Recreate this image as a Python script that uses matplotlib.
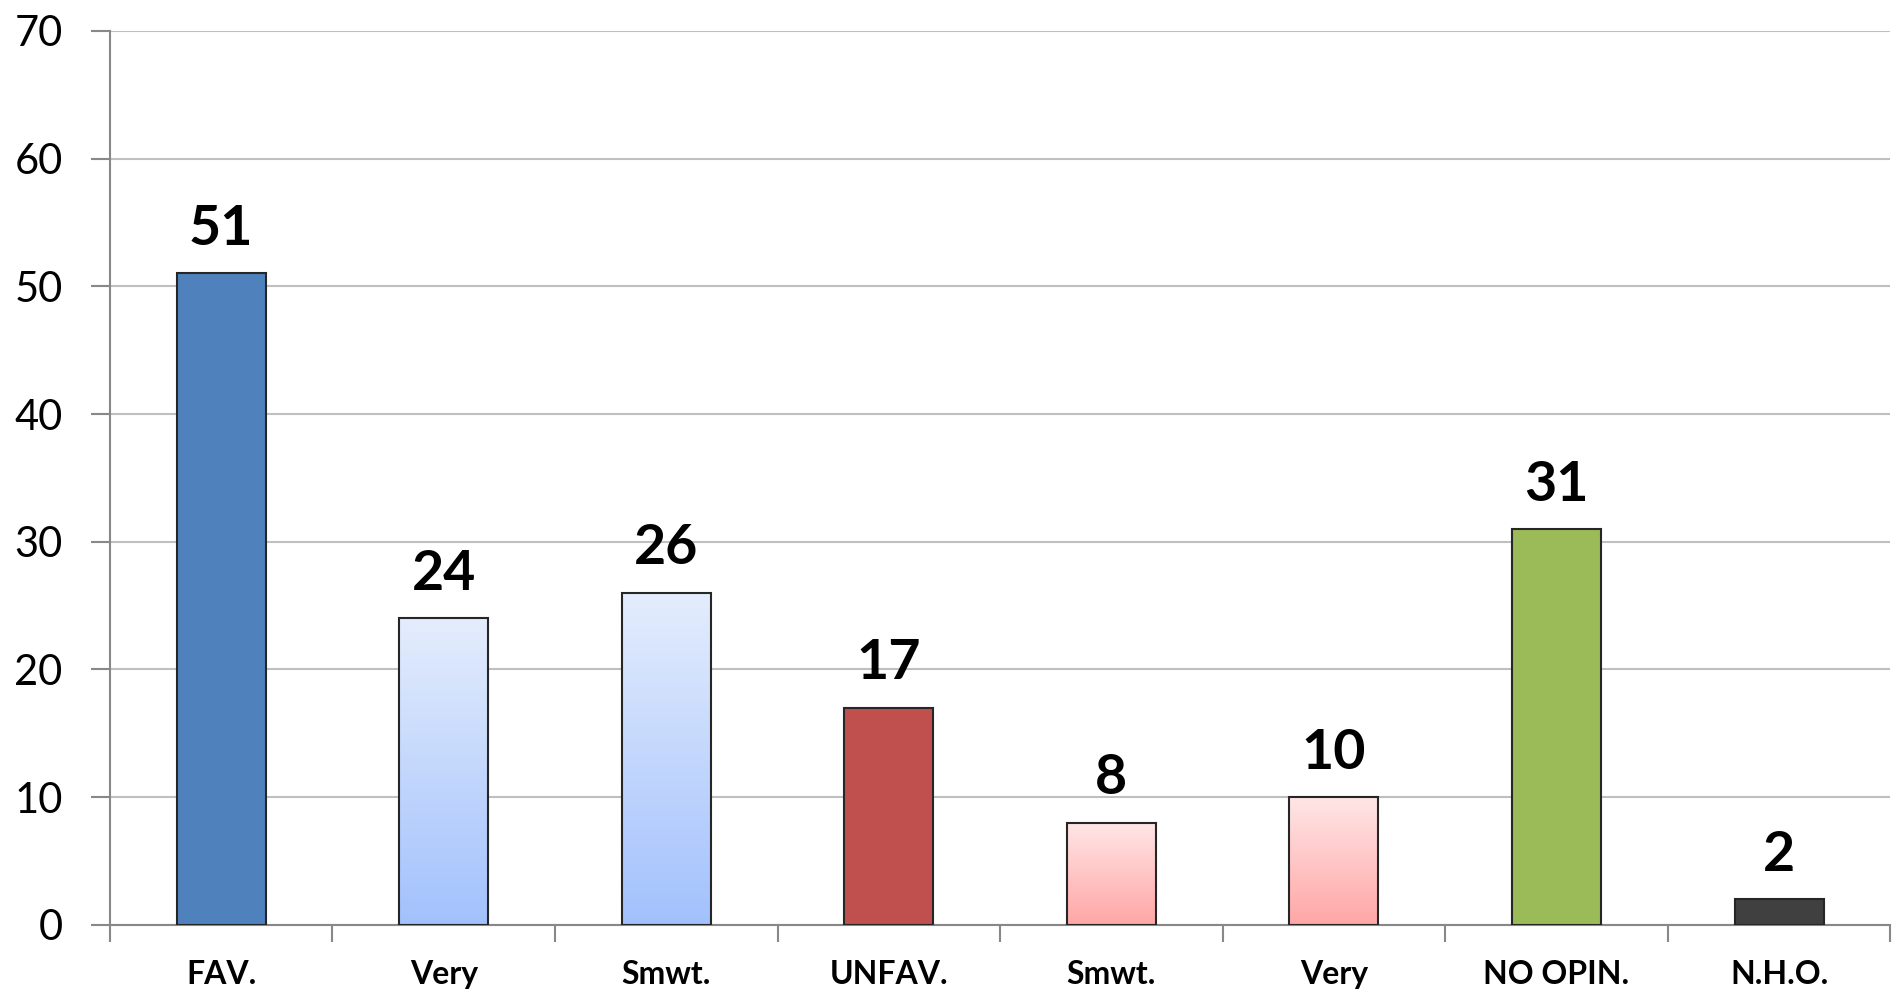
import matplotlib.pyplot as plt
import numpy as np
from matplotlib.colors import LinearSegmentedColormap

# datos
categorias = ['FAV.', 'Very', 'Smwt.', 'UNFAV.', 'Smwt.', 'Very', 'NO OPIN.', 'N.H.O.']
valores = [51, 24, 26, 17, 8, 10, 31, 2]
# relleno: color solido o degradado (arriba, abajo)
rellenos = ['#4F81BD', ('#E4EDFD', '#A2C1FC'), ('#E4EDFD', '#A2C1FC'), '#C0504D',
            ('#FFE6E6', '#FFA6A6'), ('#FFE6E6', '#FFA6A6'), '#9BBB59', '#404040']
yticks = [0, 10, 20, 30, 40, 50, 60, 70]

plt.rcParams['font.family'] = ['Lato', 'DejaVu Sans']

fig = plt.figure(figsize=(18.92, 9.93), dpi=100)
ax = fig.add_axes([0.0581, 0.0685, 0.941, 0.9005])

x = np.arange(len(valores))
barras = ax.bar(x, valores, width=0.4, edgecolor='#262626', linewidth=1.5, zorder=3)

grad = np.linspace(0, 1, 256).reshape(-1, 1)
for b, r in zip(barras, rellenos):
    if isinstance(r, tuple):
        b.set_facecolor('none')
        cmap = LinearSegmentedColormap.from_list('g', [r[1], r[0]])
        x0, y0 = b.get_x(), b.get_y()
        im = ax.imshow(grad, cmap=cmap, origin='lower', aspect='auto',
                       extent=[x0, x0 + b.get_width(), y0, y0 + b.get_height()], zorder=2)
        im.set_clip_path(b)
    else:
        b.set_facecolor(r)

for xi, v in zip(x, valores):
    ax.annotate(str(v), (xi, v), xytext=(0, 14), textcoords='offset points',
                ha='center', va='bottom', fontsize=40, fontweight='bold', color='black')

ax.set_xlim(-0.5, 7.5)
ax.set_ylim(0, 70)
ax.set_yticks(yticks)
ax.set_yticklabels([str(t) for t in yticks], fontsize=30)
ax.yaxis.grid(True, color='#BFBFBF', linewidth=1.5, zorder=0)
ax.set_axisbelow(True)

ax.set_xticks(np.arange(-0.5, 8, 1))
ax.set_xticklabels([])
ax.set_xticks(x, minor=True)
ax.set_xticklabels(categorias, minor=True, fontsize=23, fontweight='bold')
ax.tick_params(axis='x', which='major', length=12, width=1.5, color='#888888', direction='out')
ax.tick_params(axis='x', which='minor', length=0, pad=25)
ax.tick_params(axis='y', length=14, width=1.5, color='#888888', pad=20)

for s in ['top', 'right']:
    ax.spines[s].set_visible(False)
for s in ['left', 'bottom']:
    ax.spines[s].set_color('#888888')
    ax.spines[s].set_linewidth(1.5)

plt.savefig('out.png', dpi=100)
